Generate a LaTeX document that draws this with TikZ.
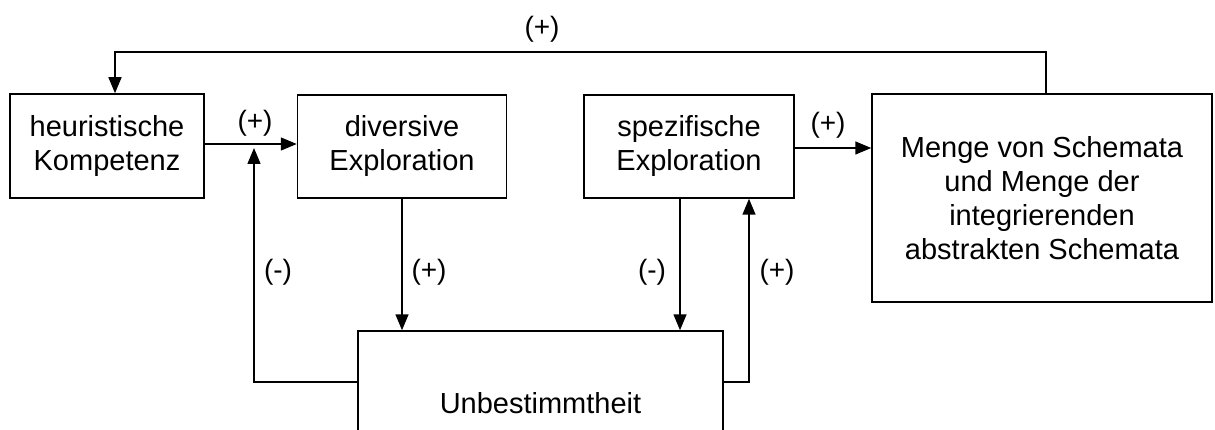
\documentclass[tikz,border=0pt]{standalone}
\usepackage{fontspec}
\setmainfont{Liberation Sans}
\usetikzlibrary{arrows.meta,calc}
\begin{document}
\begin{tikzpicture}[x=1pt,y=-1pt,
  box/.style={draw,line width=1.5pt,inner sep=0pt,align=center,
    font=\fontsize{29}{34}\selectfont},
  lbl/.style={font=\fontsize{28}{34}\selectfont,inner sep=0pt},
  conn/.style={line width=1.5pt,-{Triangle[length=16pt,width=13pt]}}]
\clip (0,0) rectangle (1215,430);

% boxes
\node[box,minimum width=194pt,minimum height=104pt] (heur) at (107,146) {heuristische\\Kompetenz};
\node[box,minimum width=209pt,minimum height=103pt] (div) at (402,146.5) {diversive\\Exploration};
\node[box,minimum width=210pt,minimum height=103pt] (spez) at (689,146.5) {spezifische\\Exploration};
\node[box,minimum width=340pt,minimum height=208pt] (menge) at (1042,198) {Menge von Schemata\\und Menge der\\integrierenden\\abstrakten Schemata};
\node[box,minimum width=365pt,minimum height=144pt] (unb) at (540.5,403) {Unbestimmtheit};

% junction points of the connectors
\coordinate (top) at (0,52);
\coordinate (join) at (254,148);

% connectors
\draw[conn] ([yshift=2pt]heur.east) -- ([yshift=2pt]heur.east -| div.west);
\draw[conn] ([yshift=-1.5pt]spez.east) -- ([yshift=-1.5pt]spez.east -| menge.west);
\draw[conn] (div.south) -- (div.south |- unb.north);
\draw[conn] ([xshift=-9pt]spez.south) -- ([xshift=-9pt]spez.south |- unb.north);
\draw[conn] ([yshift=21pt]unb.west) -| (join);
\draw[conn] ([yshift=21pt]unb.east) -| ([xshift=60pt]spez.south);
\draw[conn] ([xshift=4pt]menge.north) -- ([xshift=4pt]menge.north |- top) -| ([xshift=8pt]heur.north);

% signs
\node[lbl] (l1) at (255,123) {(+)};
\node[lbl] (l2) at (828,125) {(+)};
\node[lbl] (l3) at (542,29) {(+)};
\node[lbl] (l4) at (278,272) {(-)};
\node[lbl] (l5) at (429,272) {(+)};
\node[lbl] (l6) at (652,272) {(-)};
\node[lbl] (l7) at (777,272) {(+)};
\end{tikzpicture}
\end{document}
